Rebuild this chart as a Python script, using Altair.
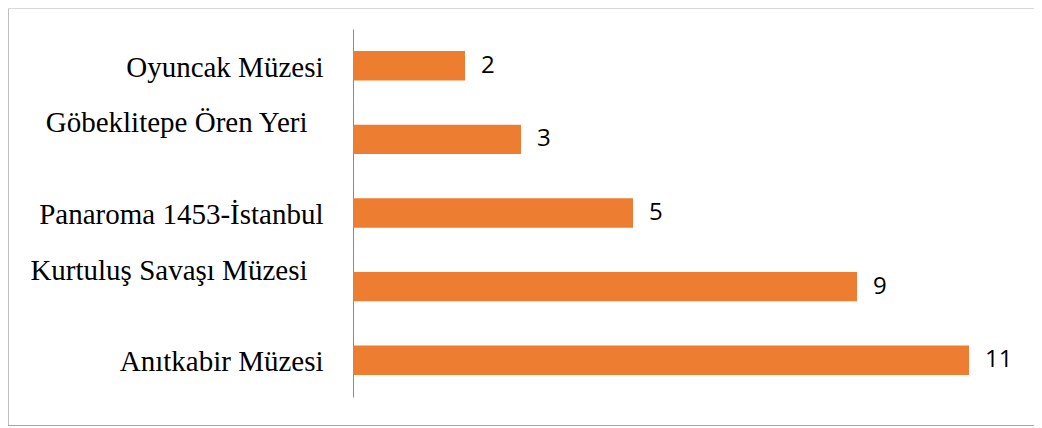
import json
import altair as alt
import pandas as pd

categories = [
    "Oyuncak Müzesi",
    "Göbeklitepe Ören Yeri",
    "Panaroma 1453-İstanbul",
    "Kurtuluş Savaşı Müzesi",
    "Anıtkabir Müzesi",
]
values = [2, 3, 5, 9, 11]

df = pd.DataFrame({"museum": categories, "count": values})

# labels that sit higher / further left in the original layout
shifted = ["Göbeklitepe Ören Yeri", "Kurtuluş Savaşı Müzesi"]
test = "indexof(" + json.dumps(shifted, ensure_ascii=False) + ", datum.value) >= 0"

y_enc = alt.Y(
    "museum:N",
    sort=categories,
    scale=alt.Scale(paddingInner=0.6, paddingOuter=0.3),
    axis=alt.Axis(
        title=None,
        ticks=False,
        domainColor="#898989",
        domainWidth=1,
        labelFont="Liberation Serif",
        labelFontSize=29,
        labelColor="#000000",
        labelLimit=400,
        labelPadding={"condition": {"test": test, "value": 46}, "value": 30},
        labelOffset={"condition": {"test": test, "value": -16}, "value": 2},
    ),
)
x_enc = alt.X("count:Q", scale=alt.Scale(domain=[0, 12]), axis=None)

base = alt.Chart(df).encode(y=y_enc, x=x_enc)

bars = base.mark_bar(color="#ED7D31")
labels = base.mark_text(
    align="left", baseline="middle", dx=16, font="Open Sans", fontSize=24, color="#000000"
).encode(text="count:Q")

frame_src = alt.Chart(pd.DataFrame({"frame": [0]}))
frame_left = frame_src.mark_rule(color="#bfbfbf", strokeWidth=1).encode(
    x=alt.value(-344.5), y=alt.value(-21), y2=alt.value(397)
)
frame_top = frame_src.mark_rule(color="#d9d9d9", strokeWidth=1).encode(
    x=alt.value(-345), x2=alt.value(700), y=alt.value(-20.5)
)
frame_bottom = frame_src.mark_rule(color="#a6a6a6", strokeWidth=1).encode(
    x=alt.value(-345), x2=alt.value(700), y=alt.value(396.5)
)

chart = (
    alt.layer(frame_left, frame_top, frame_bottom, bars, labels)
    .properties(
        width=672,
        height=368,
        autosize="none",
        padding={"left": 345, "top": 21, "right": 9, "bottom": 31},
        background="#ffffff",
    )
    .configure_view(strokeWidth=0)
)

chart.save("out.html", embed_options={"renderer": "svg", "actions": False})
